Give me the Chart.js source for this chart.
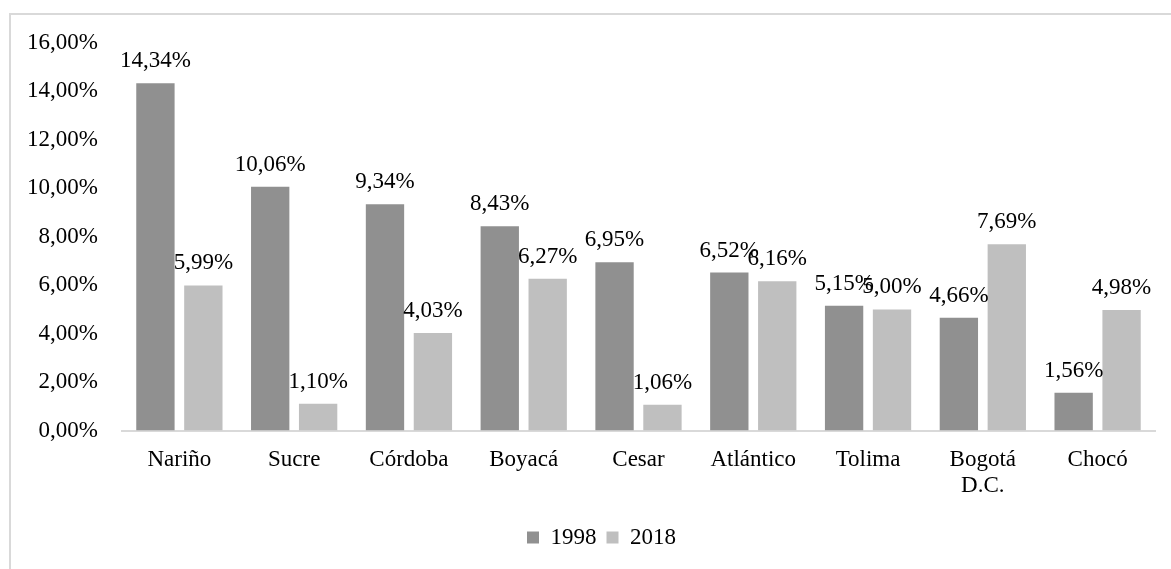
<!DOCTYPE html>
<html>
<head>
<meta charset="utf-8">
<script src="https://cdn.jsdelivr.net/npm/chart.js@4/dist/chart.umd.min.js"></script>
<style>
html,body{margin:0;padding:0;background:#fff;}
#wrap{width:1171px;height:569px;position:relative;}
</style>
</head>
<body>
<div id="wrap"><canvas id="c" width="1171" height="569"></canvas></div>
<script>
const categories = ['Nariño','Sucre','Córdoba','Boyacá','Cesar','Atlántico','Tolima',['Bogotá','D.C.'],'Chocó'];
const seriesNames = ['1998','2018'];
const values1998 = [14.34, 10.06, 9.34, 8.43, 6.95, 6.52, 5.15, 4.66, 1.56];
const values2018 = [5.99, 1.10, 4.03, 6.27, 1.06, 6.16, 5.00, 7.69, 4.98];
const yTicks = [0, 2, 4, 6, 8, 10, 12, 14, 16];

const FONT = "'Liberation Serif', 'Times New Roman', serif";
const fmt = v => v.toFixed(2).replace('.', ',') + '%';

const framePlugin = {
  id: 'frame',
  beforeDraw(chart) {
    const ctx = chart.ctx;
    ctx.save();
    ctx.fillStyle = '#ffffff';
    ctx.fillRect(0, 0, chart.width, chart.height);
    ctx.strokeStyle = '#d9d9d9';
    ctx.lineWidth = 2;
    ctx.strokeRect(10, 14, chart.width + 50, chart.height + 50);
    ctx.restore();
  }
};

const legendShift = {
  id: 'legendShift',
  afterLayout(chart) {
    const lg = chart.legend;
    if (lg) { lg.left += 19; lg.right += 19; }
  }
};

const labelPlugin = {
  id: 'barLabels',
  afterDatasetsDraw(chart) {
    const ctx = chart.ctx;
    ctx.save();
    ctx.font = '23px ' + FONT;
    ctx.fillStyle = '#000000';
    ctx.textAlign = 'center';
    ctx.textBaseline = 'alphabetic';
    chart.data.datasets.forEach((ds, di) => {
      const meta = chart.getDatasetMeta(di);
      meta.data.forEach((bar, i) => {
        ctx.fillText(fmt(ds.data[i]), bar.x, bar.y - 16);
      });
    });
    ctx.restore();
  }
};

new Chart(document.getElementById('c'), {
  type: 'bar',
  data: {
    labels: categories,
    datasets: [
      { label: seriesNames[0], data: values1998, backgroundColor: '#909090', borderWidth: 0, categoryPercentage: 0.835, barPercentage: 0.80 },
      { label: seriesNames[1], data: values2018, backgroundColor: '#bfbfbf', borderWidth: 0, categoryPercentage: 0.835, barPercentage: 0.80 }
    ]
  },
  options: {
    responsive: false,
    animation: false,
    devicePixelRatio: 1,
    layout: { padding: { left: 10, right: 16, top: 43, bottom: 10 } },
    plugins: {
      tooltip: { enabled: false },
      legend: {
        position: 'bottom',
        labels: {
          font: { family: FONT, size: 23 },
          color: '#000000',
          boxWidth: 12,
          boxHeight: 12,
          padding: 10
        }
      }
    },
    scales: {
      x: {
        grid: { display: false, drawTicks: false },
        border: { display: true, color: '#d9d9d9', width: 2 },
        ticks: { font: { family: FONT, size: 23, lineHeight: 1.15 }, color: '#000000', padding: 16, maxRotation: 0, autoSkip: false },
        afterFit(s) { s.height = 85.5; }
      },
      y: {
        min: 0, max: 16,
        afterBuildTicks(s) { s.ticks = yTicks.map(v => ({ value: v })); },
        grid: { display: false, drawTicks: false },
        border: { display: false },
        ticks: { font: { family: FONT, size: 23 }, color: '#000000', padding: 24, callback: v => fmt(v) },
        afterFit(s) { s.width = 112; }
      }
    }
  },
  plugins: [framePlugin, legendShift, labelPlugin]
});
</script>
</body>
</html>
